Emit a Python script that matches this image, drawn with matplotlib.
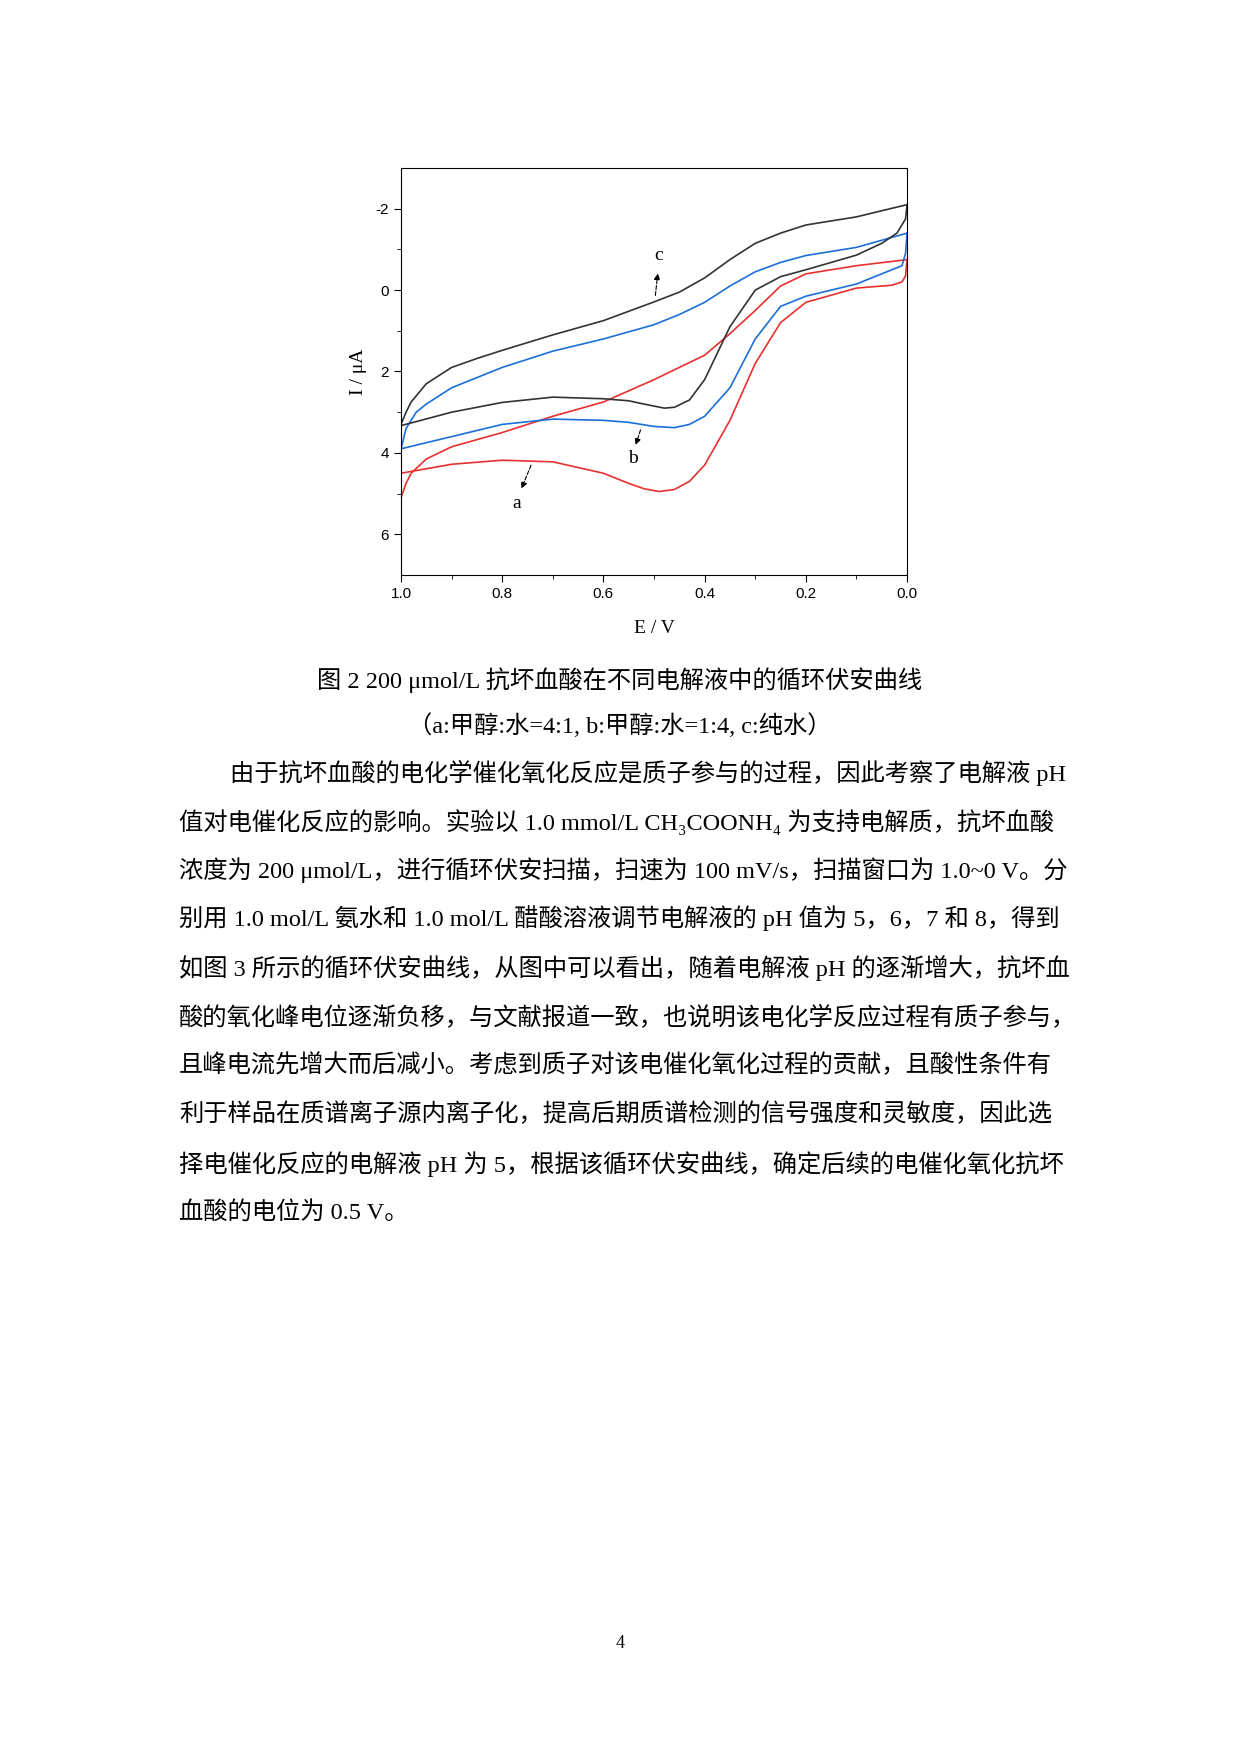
import matplotlib
matplotlib.use("Agg")
import matplotlib.pyplot as plt

# c (pure water) - black
c_fwd_E = [1.0, 0.99, 0.98, 0.95, 0.9, 0.85, 0.8, 0.7, 0.6, 0.5, 0.45, 0.4, 0.35, 0.3, 0.25, 0.2, 0.1, 0.0]
c_fwd_I = [3.3, 3.0, 2.75, 2.3, 1.9, 1.68, 1.48, 1.1, 0.75, 0.29, 0.05, -0.3, -0.75, -1.15, -1.4, -1.6, -1.8, -2.1]
c_rev_E = [0.0, 0.003, 0.02, 0.05, 0.1, 0.2, 0.25, 0.3, 0.35, 0.4, 0.43, 0.46, 0.48, 0.52, 0.55, 0.6, 0.7, 0.8, 0.9, 1.0]
c_rev_I = [-2.1, -1.75, -1.4, -1.15, -0.86, -0.5, -0.33, 0.0, 0.9, 2.2, 2.7, 2.88, 2.9, 2.8, 2.72, 2.67, 2.63, 2.76, 3.0, 3.33]
# b (methanol:water=1:4) - blue
b_fwd_E = [1.0, 0.99, 0.97, 0.95, 0.9, 0.8, 0.7, 0.6, 0.5, 0.45, 0.4, 0.35, 0.3, 0.25, 0.2, 0.1, 0.0]
b_fwd_I = [3.9, 3.4, 3.0, 2.8, 2.4, 1.9, 1.5, 1.2, 0.85, 0.6, 0.3, -0.1, -0.45, -0.68, -0.85, -1.05, -1.4]
b_rev_E = [0.0, 0.003, 0.01, 0.05, 0.1, 0.2, 0.25, 0.3, 0.35, 0.4, 0.43, 0.46, 0.5, 0.55, 0.6, 0.7, 0.8, 0.9, 1.0]
b_rev_I = [-1.4, -0.9, -0.6, -0.4, -0.15, 0.15, 0.4, 1.2, 2.4, 3.1, 3.3, 3.38, 3.35, 3.25, 3.2, 3.17, 3.3, 3.6, 3.9]
# a (methanol:water=4:1) - red
a_fwd_E = [1.0, 0.99, 0.98, 0.95, 0.9, 0.8, 0.7, 0.6, 0.5, 0.4, 0.35, 0.3, 0.25, 0.2, 0.1, 0.0]
a_fwd_I = [5.1, 4.75, 4.5, 4.15, 3.85, 3.5, 3.1, 2.75, 2.2, 1.6, 1.07, 0.5, -0.1, -0.4, -0.6, -0.75]
a_rev_E = [0.0, 0.003, 0.01, 0.03, 0.1, 0.2, 0.25, 0.3, 0.35, 0.4, 0.43, 0.46, 0.49, 0.52, 0.55, 0.6, 0.7, 0.8, 0.9, 1.0]
a_rev_I = [-0.75, -0.35, -0.2, -0.12, -0.05, 0.3, 0.8, 1.8, 3.2, 4.3, 4.7, 4.9, 4.95, 4.88, 4.75, 4.5, 4.22, 4.18, 4.28, 4.5]

x_ticks = [1.0, 0.8, 0.6, 0.4, 0.2, 0.0]
y_ticks = [-2, 0, 2, 4, 6]

fig = plt.figure(figsize=(12.4, 17.54), dpi=100)
ax = fig.add_axes([0.3234, 0.6722, 0.4081, 0.232])
for E1, I1, E2, I2, col in [(a_fwd_E, a_fwd_I, a_rev_E, a_rev_I, '#e8302e'),
                            (b_fwd_E, b_fwd_I, b_rev_E, b_rev_I, '#1a6fd8'),
                            (c_fwd_E, c_fwd_I, c_rev_E, c_rev_I, '#333333')]:
    ax.plot(E1, I1, color=col, lw=1.2)
    ax.plot(E2, I2, color=col, lw=1.2)
ax.set_xlim(1.0, 0.0)
ax.set_ylim(7, -3)
ax.set_xticks(x_ticks)
ax.set_xticklabels(['%.1f' % v for v in x_ticks])
ax.set_yticks(y_ticks)
ax.set_yticklabels(['-2', '0', '2', '4', '6'])
ax.set_xticks([0.9, 0.7, 0.5, 0.3, 0.1], minor=True)
ax.set_yticks([-1, 1, 3, 5], minor=True)
ax.tick_params(which='both', direction='out', labelsize=11)
ax.tick_params(which='major', length=5)
ax.tick_params(which='minor', length=3)
for l in ax.get_xticklabels() + ax.get_yticklabels():
    l.set_family('Liberation Sans')
ax.set_xlabel('E / V', family='Liberation Serif', fontsize=14, labelpad=14)
ax.set_ylabel('I / μA', family='Liberation Serif', fontsize=14, labelpad=6)

ap = dict(arrowstyle='-|>', ls='--', lw=0.8, color='black', mutation_scale=9)
ax.annotate('', xy=(0.492, -0.48), xytext=(0.498, 0.2), arrowprops=ap)
ax.text(0.49, -0.85, 'c', family='Liberation Serif', fontsize=14, ha='center', va='center')
ax.annotate('', xy=(0.538, 3.87), xytext=(0.525, 3.37), arrowprops=ap)
ax.text(0.541, 4.15, 'b', family='Liberation Serif', fontsize=14, ha='center', va='center')
ax.annotate('', xy=(0.764, 4.94), xytext=(0.741, 4.24), arrowprops=ap)
ax.text(0.771, 5.25, 'a', family='Liberation Serif', fontsize=14, ha='center', va='center')

fam = ['Liberation Serif', 'Noto Sans CJK SC']
fig.text(0.5, 1 - 680/1754, '图 2 200 μmol/L 抗坏血酸在不同电解液中的循环伏安曲线', family=fam,
         fontsize=17.5, ha='center', va='center')
fig.text(0.5, 1 - 726/1754, '（a:甲醇:水=4:1, b:甲醇:水=1:4, c:纯水）', family=fam,
         fontsize=17.5, ha='center', va='center')

lines = [
    '由于抗坏血酸的电化学催化氧化反应是质子参与的过程，因此考察了电解液 pH',
    '值对电催化反应的影响。实验以 1.0 mmol/L CH₃COONH₄ 为支持电解质，抗坏血酸',
    '浓度为 200 μmol/L，进行循环伏安扫描，扫速为 100 mV/s，扫描窗口为 1.0~0 V。分',
    '别用 1.0 mol/L 氨水和 1.0 mol/L 醋酸溶液调节电解液的 pH 值为 5，6，7 和 8，得到',
    '如图 3 所示的循环伏安曲线，从图中可以看出，随着电解液 pH 的逐渐增大，抗坏血',
    '酸的氧化峰电位逐渐负移，与文献报道一致，也说明该电化学反应过程有质子参与，',
    '且峰电流先增大而后减小。考虑到质子对该电催化氧化过程的贡献，且酸性条件有',
    '利于样品在质谱离子源内离子化，提高后期质谱检测的信号强度和灵敏度，因此选',
    '择电催化反应的电解液 pH 为 5，根据该循环伏安曲线，确定后续的电催化氧化抗坏',
    '血酸的电位为 0.5 V。',
]
ys = [773, 822, 870, 918, 968, 1017, 1065, 1114, 1164, 1212]
for i, (t, y) in enumerate(zip(lines, ys)):
    x0 = 230 if i == 0 else 179
    fig.text(x0 / 1240, 1 - y / 1754, t, family=fam, fontsize=17.5, ha='left', va='center')

fig.text(0.5, 1 - 1643/1754, '4', family='Liberation Serif', fontsize=13, ha='center', va='center')
fig.savefig('out.png', dpi=100, facecolor='white')
